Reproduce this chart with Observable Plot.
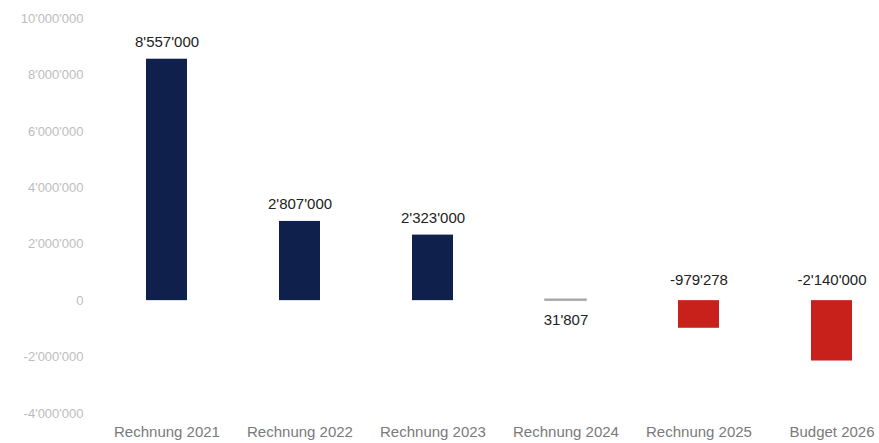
<!DOCTYPE html>
<html>
<head>
<meta charset="utf-8">
<script src="https://cdn.jsdelivr.net/npm/d3@7"></script>
<script src="https://cdn.jsdelivr.net/npm/@observablehq/plot@0.6"></script>
<style>
  html, body { margin: 0; padding: 0; background: #fff; }
  #chart { width: 879px; height: 443px; }
  svg { font-family: "Liberation Sans", Arial, sans-serif; }
</style>
</head>
<body>
<div id="chart"></div>
<script>
const categories = ["Rechnung 2021", "Rechnung 2022", "Rechnung 2023", "Rechnung 2024", "Rechnung 2025", "Budget 2026"];
const values = [8557000, 2807000, 2323000, 31807, -979278, -2140000];
const colors = ["#10204d", "#10204d", "#10204d", "#a8a8a8", "#c8201b", "#c8201b"];
const yTicks = [-4000000, -2000000, 0, 2000000, 4000000, 6000000, 8000000, 10000000];

const locale = d3.formatLocale({decimal: ".", thousands: "'", grouping: [3], currency: ["", ""], minus: "-"});
const fmt = locale.format(",d");

const data = categories.map((c, i) => ({category: c, value: values[i], color: colors[i]}));
const big = data.filter(d => d.value > 100000);
const neg = data.filter(d => d.value < 0);
const small = data.filter(d => d.value >= 0 && d.value <= 100000);

const chart = Plot.plot({
  width: 879,
  height: 443,
  marginTop: 18,
  marginBottom: 30,
  marginLeft: 126,
  marginRight: 6,
  style: {fontFamily: "'Liberation Sans', Arial, sans-serif", background: "#fff"},
  x: {domain: categories, paddingInner: 0.69, paddingOuter: 0.15, label: null},
  y: {domain: [-4000000, 10000000], label: null},
  marks: [
    Plot.axisY({ticks: yTicks, tickFormat: fmt, tickSize: 0, tickPadding: 43, fontSize: 13, fill: "#bdbdbd", label: null}),
    Plot.axisX({tickSize: 0, tickPadding: 13, fontSize: 15, fill: "#7a7a7a", label: null}),
    Plot.barY(data, {x: "category", y: "value", fill: d => d.color, stroke: d => d.color, strokeWidth: d => Math.abs(d.value) < 100000 ? 1.5 : 0}),
    Plot.text(big, {x: "category", y: "value", text: d => fmt(d.value), dy: -17, fontSize: 15, fill: "#222"}),
    Plot.text(neg, {x: "category", y: () => 0, text: d => fmt(d.value), dy: -20, fontSize: 15, fill: "#222"}),
    Plot.text(small, {x: "category", y: () => 0, text: d => fmt(d.value), dy: 20, fontSize: 15, fill: "#222"})
  ]
});
document.getElementById("chart").appendChild(chart);
</script>
</body>
</html>
